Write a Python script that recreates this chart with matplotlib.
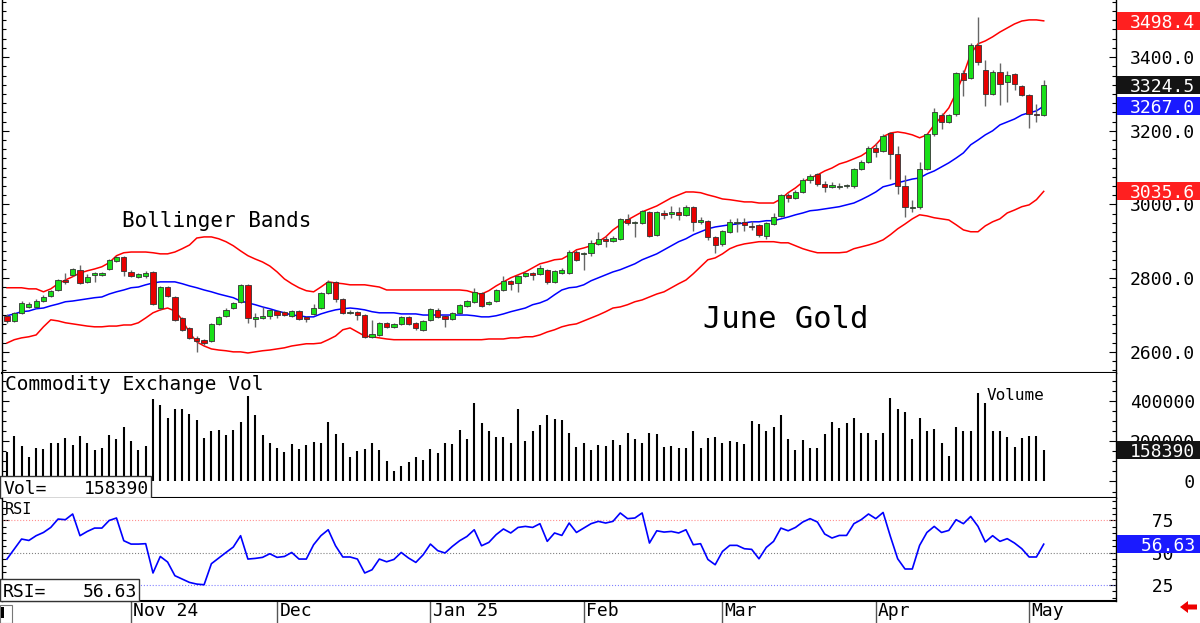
import numpy as np
import matplotlib
matplotlib.use("Agg")
import matplotlib.pyplot as plt
from matplotlib.patches import Rectangle, Polygon
from matplotlib.ticker import MultipleLocator, FixedLocator, FixedFormatter
from matplotlib.transforms import blended_transform_factory

plt.rcParams['font.family'] = ['DejaVu Sans Mono', 'DejaVu Sans']

# ---- June Gold daily OHLC ----
opens = [
    2698, 2684, 2706, 2722, 2722, 2738, 2752, 2768, 2795, 2809,
    2823, 2790, 2809, 2809, 2825, 2847, 2858, 2817, 2804, 2806,
    2817, 2719, 2776, 2749, 2692, 2665, 2638, 2633, 2630, 2676,
    2698, 2719, 2736, 2782, 2690, 2692, 2698, 2711, 2708, 2698,
    2711, 2695, 2703, 2719, 2760, 2790, 2744, 2706, 2708, 2700,
    2641, 2646, 2679, 2668, 2676, 2695, 2679, 2660, 2687, 2714,
    2698, 2690, 2706, 2725, 2736, 2760, 2730, 2738, 2768, 2793,
    2787, 2806, 2814, 2812, 2823, 2790, 2814, 2814, 2871, 2866,
    2869, 2893, 2907, 2901, 2907, 2961, 2950, 2950, 2980, 2918,
    2977, 2975, 2980, 2972, 2994, 2953, 2956, 2912, 2893, 2926,
    2950, 2953, 2942, 2945, 2915, 2947, 2969, 3026, 3018, 3034,
    3067, 3083, 3056, 3048, 3048, 3050, 3050, 3097, 3116, 3154,
    3145, 3194, 3137, 3050, 2991, 2994, 3097, 3192, 3243, 3224,
    3246, 3357, 3344, 3433, 3365, 3300, 3360, 3333, 3355, 3322,
    3298, 3246, 3243]
highs = [
    2703, 2708, 2738, 2736, 2744, 2755, 2768, 2798, 2814, 2828,
    2836, 2812, 2817, 2817, 2852, 2861, 2861, 2823, 2814, 2820,
    2820, 2779, 2779, 2752, 2695, 2668, 2643, 2635, 2679, 2698,
    2719, 2736, 2785, 2785, 2706, 2722, 2717, 2714, 2711, 2714,
    2714, 2698, 2730, 2763, 2795, 2793, 2747, 2714, 2711, 2703,
    2687, 2681, 2681, 2679, 2698, 2698, 2681, 2687, 2719, 2719,
    2700, 2708, 2730, 2741, 2774, 2763, 2738, 2771, 2806, 2795,
    2809, 2817, 2817, 2836, 2825, 2823, 2828, 2877, 2877, 2871,
    2904, 2926, 2915, 2915, 2964, 2975, 2956, 2985, 2983, 2983,
    2985, 2996, 2994, 2999, 2996, 2966, 2958, 2915, 2931, 2961,
    2964, 2964, 2956, 2947, 2953, 2977, 3029, 3032, 3040, 3072,
    3083, 3086, 3064, 3061, 3059, 3056, 3099, 3121, 3159, 3167,
    3192, 3197, 3159, 3080, 3013, 3116, 3194, 3262, 3249, 3246,
    3360, 3365, 3439, 3509, 3392, 3365, 3384, 3363, 3357, 3325,
    3300, 3273, 3338]
lows = [
    2679, 2681, 2703, 2719, 2719, 2736, 2749, 2766, 2785, 2806,
    2785, 2787, 2790, 2806, 2823, 2844, 2806, 2804, 2801, 2801,
    2728, 2714, 2749, 2684, 2657, 2635, 2600, 2619, 2627, 2673,
    2695, 2717, 2733, 2679, 2668, 2690, 2690, 2692, 2698, 2695,
    2687, 2681, 2700, 2717, 2757, 2736, 2703, 2703, 2687, 2638,
    2638, 2643, 2665, 2665, 2673, 2673, 2660, 2657, 2684, 2692,
    2668, 2687, 2703, 2722, 2733, 2722, 2728, 2736, 2766, 2768,
    2763, 2804, 2795, 2809, 2785, 2787, 2812, 2812, 2847, 2823,
    2861, 2890, 2885, 2899, 2904, 2945, 2912, 2947, 2912, 2915,
    2961, 2964, 2958, 2969, 2928, 2947, 2904, 2869, 2888, 2923,
    2926, 2928, 2931, 2912, 2907, 2945, 2966, 3007, 3015, 3032,
    3059, 3050, 3034, 3045, 3042, 3045, 3045, 3094, 3113, 3129,
    3143, 3070, 3029, 2966, 2980, 2988, 3094, 3186, 3205, 3222,
    3240, 3295, 3341, 3379, 3268, 3298, 3270, 3279, 3311, 3295,
    3208, 3224, 3240]
closes = [
    2684, 2706, 2733, 2730, 2738, 2749, 2766, 2795, 2790, 2825,
    2787, 2804, 2814, 2814, 2850, 2858, 2820, 2806, 2812, 2814,
    2730, 2776, 2752, 2687, 2660, 2638, 2630, 2624, 2676, 2695,
    2714, 2733, 2782, 2692, 2695, 2698, 2714, 2700, 2700, 2711,
    2690, 2690, 2719, 2760, 2790, 2744, 2706, 2708, 2700, 2641,
    2649, 2679, 2668, 2676, 2695, 2676, 2665, 2684, 2717, 2695,
    2690, 2706, 2728, 2738, 2763, 2725, 2736, 2768, 2793, 2785,
    2806, 2814, 2809, 2828, 2790, 2820, 2823, 2871, 2850, 2869,
    2896, 2907, 2901, 2909, 2961, 2950, 2953, 2983, 2915, 2980,
    2972, 2980, 2972, 2994, 2953, 2958, 2912, 2890, 2928, 2953,
    2953, 2945, 2939, 2918, 2950, 2966, 3026, 3018, 3034, 3067,
    3078, 3056, 3048, 3053, 3050, 3053, 3097, 3116, 3154, 3143,
    3186, 3137, 3050, 2994, 2994, 3097, 3192, 3251, 3224, 3243,
    3357, 3338, 3433, 3387, 3300, 3360, 3327, 3352, 3327, 3298,
    3246, 3243, 3324.5]

# ---- Bollinger bands (upper / 20-day average / lower) ----
upper_band = [
    2774, 2774, 2774, 2771, 2771, 2763, 2771, 2785, 2795, 2804,
    2814, 2820, 2825, 2831, 2842, 2861, 2869, 2871, 2871, 2871,
    2869, 2866, 2866, 2871, 2880, 2890, 2909, 2912, 2912, 2907,
    2899, 2888, 2874, 2861, 2852, 2844, 2833, 2817, 2798, 2785,
    2774, 2766, 2763, 2776, 2790, 2787, 2785, 2782, 2782, 2782,
    2779, 2776, 2768, 2768, 2768, 2768, 2768, 2768, 2768, 2768,
    2768, 2768, 2768, 2766, 2760, 2757, 2766, 2779, 2790, 2801,
    2809, 2817, 2828, 2839, 2844, 2850, 2852, 2863, 2877, 2882,
    2888, 2899, 2912, 2931, 2945, 2958, 2969, 2980, 2988, 2996,
    3007, 3018, 3026, 3034, 3034, 3032, 3026, 3021, 3015, 3013,
    3010, 3007, 3007, 3004, 3004, 3004, 3015, 3032, 3045, 3061,
    3072, 3080, 3091, 3099, 3110, 3116, 3124, 3132, 3145, 3162,
    3184, 3194, 3197, 3194, 3189, 3181, 3189, 3216, 3238, 3262,
    3303, 3352, 3409, 3436, 3444, 3455, 3468, 3479, 3490, 3498,
    3501, 3501, 3498.4]
mid_band = [
    2698, 2703, 2709, 2711, 2717, 2719, 2725, 2730, 2736, 2738,
    2741, 2744, 2747, 2749, 2757, 2763, 2768, 2774, 2776, 2782,
    2787, 2790, 2790, 2790, 2785, 2779, 2774, 2768, 2763, 2757,
    2752, 2747, 2738, 2733, 2728, 2722, 2717, 2711, 2706, 2700,
    2698, 2695, 2695, 2703, 2709, 2714, 2717, 2719, 2717, 2714,
    2709, 2706, 2706, 2706, 2703, 2703, 2703, 2700, 2700, 2700,
    2700, 2700, 2700, 2700, 2698, 2695, 2695, 2698, 2703, 2709,
    2714, 2719, 2728, 2733, 2741, 2755, 2768, 2774, 2776, 2782,
    2793, 2801, 2809, 2817, 2823, 2831, 2839, 2850, 2858, 2866,
    2877, 2888, 2899, 2907, 2918, 2926, 2934, 2939, 2942, 2945,
    2947, 2950, 2953, 2953, 2956, 2956, 2961, 2966, 2972, 2977,
    2983, 2985, 2988, 2991, 2994, 2999, 3004, 3013, 3023, 3034,
    3048, 3053, 3059, 3064, 3069, 3072, 3083, 3091, 3102, 3113,
    3126, 3140, 3162, 3175, 3189, 3200, 3216, 3224, 3232, 3243,
    3249, 3254, 3267.0]
lower_band = [
    2624, 2633, 2638, 2641, 2646, 2668, 2687, 2684, 2679, 2676,
    2673, 2670, 2668, 2668, 2670, 2670, 2673, 2673, 2679, 2692,
    2706, 2714, 2719, 2711, 2687, 2652, 2627, 2616, 2608, 2605,
    2603, 2600, 2600, 2597, 2600, 2603, 2605, 2608, 2611, 2616,
    2619, 2622, 2622, 2624, 2633, 2643, 2660, 2665, 2654, 2643,
    2641, 2638, 2635, 2633, 2633, 2633, 2633, 2633, 2633, 2633,
    2633, 2633, 2633, 2633, 2633, 2633, 2635, 2635, 2635, 2638,
    2638, 2641, 2641, 2646, 2654, 2660, 2668, 2673, 2676, 2684,
    2692, 2700, 2709, 2719, 2722, 2728, 2736, 2741, 2749, 2757,
    2763, 2774, 2785, 2795, 2812, 2831, 2850, 2855, 2866, 2880,
    2888, 2893, 2896, 2899, 2899, 2899, 2896, 2896, 2888, 2880,
    2874, 2869, 2869, 2869, 2869, 2871, 2880, 2885, 2890, 2896,
    2904, 2918, 2934, 2947, 2961, 2972, 2969, 2964, 2961, 2958,
    2945, 2931, 2926, 2926, 2942, 2953, 2961, 2977, 2985, 2994,
    2999, 3013, 3035.6]

# ---- volume, thousands of contracts ----
volume_k = [
    148, 226, 176, 120, 165, 161, 193, 190, 216, 181,
    226, 193, 157, 168, 230, 210, 272, 201, 157, 176,
    410, 379, 314, 359, 359, 334, 306, 216, 249, 254,
    230, 254, 297, 426, 330, 233, 190, 168, 145, 185,
    160, 181, 198, 193, 297, 236, 190, 120, 152, 160,
    193, 157, 103, 52, 79, 95, 120, 107, 160, 140,
    190, 185, 256, 211, 392, 289, 252, 220, 220, 193,
    359, 203, 252, 281, 330, 309, 306, 243, 173, 190,
    157, 181, 176, 206, 181, 243, 211, 190, 243, 235,
    173, 176, 168, 168, 251, 168, 215, 223, 193, 201,
    198, 185, 302, 286, 251, 272, 330, 213, 157, 206,
    168, 168, 236, 297, 264, 289, 317, 243, 243, 206,
    243, 413, 360, 347, 211, 317, 252, 259, 193, 127,
    269, 252, 252, 441, 392, 251, 251, 220, 173, 215,
    228, 226, 158.39]

rsi = [
    45.1, 52.9, 60.6, 59.5, 63.2, 65.7, 69.6, 76.1, 75.6, 80.0,
    63.2, 66.5, 69.1, 69.1, 75.0, 76.9, 59.3, 56.7, 56.7, 57.0,
    34.3, 47.1, 42.8, 32.2, 29.6, 27.0, 25.7, 25.2, 41.5, 45.9,
    50.2, 54.4, 63.2, 45.1, 45.6, 46.4, 49.2, 46.4, 47.1, 50.2,
    45.1, 45.1, 56.2, 63.2, 67.8, 55.4, 46.7, 46.7, 45.1, 34.3,
    36.8, 45.1, 43.0, 44.8, 50.2, 45.9, 42.5, 48.4, 56.7, 51.6,
    49.8, 54.9, 59.3, 62.6, 67.8, 55.4, 58.0, 64.0, 68.4, 65.3,
    69.6, 70.4, 69.6, 72.5, 58.8, 65.3, 63.4, 73.0, 65.7, 69.1,
    72.5, 74.3, 73.0, 74.3, 80.8, 76.4, 76.9, 80.8, 57.5, 67.0,
    66.0, 66.5, 65.3, 67.8, 56.2, 57.0, 44.8, 40.7, 51.0, 55.7,
    55.7, 53.1, 52.6, 45.3, 54.1, 58.8, 69.1, 67.0, 69.6, 73.8,
    76.4, 73.8, 64.5, 61.4, 63.4, 63.4, 72.5, 75.6, 80.0, 76.4,
    81.2, 62.6, 45.3, 37.4, 37.4, 55.7, 65.7, 70.4, 65.7, 67.3,
    75.6, 72.5, 78.1, 70.4, 58.3, 63.2, 58.8, 60.9, 57.5, 53.1,
    46.7, 46.7, 56.63]

month_idx = [17, 37, 58, 79, 98, 119, 140]
month_labels = ['Nov 24', 'Dec', 'Jan 25', 'Feb', 'Mar', 'Apr', 'May']

price_ticks = [2600, 2800, 3000, 3200, 3400]
vol_ticks = [0, 200000, 400000]
rsi_ticks = [25, 50, 75]

opens = np.array(opens, float)
closes = np.array(closes, float)
volume = np.array(volume_k) * 1000
x = np.arange(len(closes))

W, H = 1200, 623
def fx(px):
    return px / W
def fy(py):
    return 1 - py / H

fig = plt.figure(figsize=(12, 6.23), dpi=100)
left, width = fx(2), (1116 - 2) / W
ax_p = fig.add_axes([left, fy(372.5), width, 372.5 / H])
ax_v = fig.add_axes([left, fy(498), width, (498 - 372.5) / H])
ax_r = fig.add_axes([left, fy(601), width, (601 - 498) / H])

FS = 13

# price panel
up = closes >= opens
body_col = np.where(up, '#18e018', '#e80000')
ax_p.plot(x, upper_band, color='#ff0000', lw=1.1, zorder=1)
ax_p.plot(x, lower_band, color='#ff0000', lw=1.1, zorder=1)
ax_p.plot(x, mid_band, color='#0000ff', lw=1.1, zorder=1)
ax_p.vlines(x, lows, highs, color='#666666', lw=1, zorder=2)
ax_p.bar(x, np.maximum(np.abs(closes - opens), 0.8), 0.72,
         bottom=np.minimum(opens, closes), color=body_col,
         edgecolor='#333333', linewidth=0.6, zorder=3)
ax_p.set_ylim(2544, 3555)
ax_p.text(15.75, 2955, 'Bollinger Bands', fontsize=15, ha='left', va='center')
ax_p.text(95.3, 2687, 'June Gold', fontsize=22, ha='left', va='center')

# volume panel
ax_v.vlines(x, 0, volume, color='black', lw=1.5)
ax_v.set_ylim(-82000, 541600)
ax_v.text((5 - 2) / 1114, (498 - 384) / 125.5, 'Commodity Exchange Vol',
          transform=ax_v.transAxes, fontsize=14, ha='left', va='center')
ax_v.text(134.2, 425000, 'Volume', fontsize=11.5, ha='left', va='center')

# RSI panel
ax_r.axhline(75, color='#ff9090', lw=0.8, ls=':')
ax_r.axhline(50, color='#808080', lw=0.8, ls=':')
ax_r.axhline(25, color='#8080ff', lw=0.8, ls=':')
ax_r.plot(x, rsi, color='#0000ff', lw=1.2)
ax_r.set_ylim(12.6, 92.4)
ax_r.text((5 - 2) / 1114, (601 - 510) / 103, 'RSI', transform=ax_r.transAxes,
          fontsize=11, ha='left', va='center')

for ax, ticks, minor, fmt in [(ax_p, price_ticks, 25, '%.1f'),
                              (ax_v, vol_ticks, 50000, '%6d'),
                              (ax_r, rsi_ticks, 5, '%4d')]:
    ax.set_xlim(-0.68, 151.9)
    ax.yaxis.set_major_locator(FixedLocator(ticks))
    ax.yaxis.set_major_formatter(FixedFormatter([fmt % t for t in ticks]))
    ax.yaxis.set_minor_locator(MultipleLocator(minor))
    ax.tick_params(axis='x', which='both', bottom=False, top=False, labelbottom=False)
    ax.tick_params(axis='y', which='both', direction='in', left=True, right=True,
                   labelleft=False, labelright=True, pad=10, labelsize=FS, width=0.8)
    ax.tick_params(axis='y', which='major', length=5)
    ax.tick_params(axis='y', which='minor', length=3)
    ax.spines['top'].set_visible(False)
    ax.spines['bottom'].set_linewidth(1.5)
    for s in ('left', 'right'):
        ax.spines[s].set_linewidth(1)

# month axis under the RSI panel
trm = blended_transform_factory(ax_r.transData, ax_r.transAxes)
for m, lab in zip(month_idx, month_labels):
    ax_r.plot([m, m], [0, -22 / 103], color='#555555', lw=1, transform=trm, clip_on=False)
    ax_r.text(m + 0.3, -10 / 103, lab, transform=trm, fontsize=FS, ha='left', va='center')

# last-value boxes on the right scale
def value_box(ax, val, txt, color, half_h):
    tr = blended_transform_factory(fig.transFigure, ax.transData)
    fig.add_artist(Rectangle((fx(1117), val - half_h), fx(1200) - fx(1117), 2 * half_h,
                             transform=tr, facecolor=color, edgecolor='none', zorder=10))
    fig.text(fx(1130), val, txt, transform=tr, color='white', fontsize=FS,
             ha='left', va='center_baseline', zorder=11)

value_box(ax_p, upper_band[-1], '%.1f' % upper_band[-1], '#ff2020', 24.5)
value_box(ax_p, closes[-1], '%.1f' % closes[-1], '#141414', 24.5)
value_box(ax_p, mid_band[-1], '%.1f' % mid_band[-1], '#1a1aff', 24.5)
value_box(ax_p, lower_band[-1], '%.1f' % lower_band[-1], '#ff2020', 24.5)
value_box(ax_v, volume[-1], '%6d' % volume[-1], '#141414', 44700)
value_box(ax_r, rsi[-1], '%6.2f' % rsi[-1], '#1a1aff', 7.0)

# readout boxes at bottom-left of the lower panels
def readout(ax, h_px, w_px, name, txt):
    ah = ax.get_position().height * H
    ax.add_patch(Rectangle((-2 / 1114, 0), w_px / 1114, 22 / ah, transform=ax.transAxes,
                           facecolor='white', edgecolor='#333333', lw=1, zorder=5, clip_on=False))
    ax.text(1 / 1114, 11 / ah, name, transform=ax.transAxes, fontsize=FS,
            ha='left', va='center_baseline', zorder=6)
    ax.text((w_px - 4) / 1114, 11 / ah, txt, transform=ax.transAxes, fontsize=FS,
            ha='right', va='center_baseline', zorder=6)

readout(ax_v, 22, 151, 'Vol=', '%d' % volume[-1])
readout(ax_r, 22, 139, 'RSI=', '%.2f' % rsi[-1])

# scroll marker and red arrow along the bottom edge
fig.add_artist(Rectangle((fx(0), fy(623)), fx(12), fy(605) - fy(623), facecolor='white',
                         edgecolor='#777777', lw=0.8, zorder=10))
fig.add_artist(Rectangle((fx(1), fy(618)), fx(3), fy(607) - fy(618), facecolor='black',
                         edgecolor='none', zorder=11))
arrow = [(1180, 607), (1188, 601), (1188, 604.5), (1197, 604.5),
         (1197, 609.5), (1188, 609.5), (1188, 613)]
fig.add_artist(Polygon([(fx(a), fy(b)) for a, b in arrow], closed=True,
                       facecolor='#ee0000', edgecolor='none', zorder=10))

fig.savefig('out.png', dpi=100)
